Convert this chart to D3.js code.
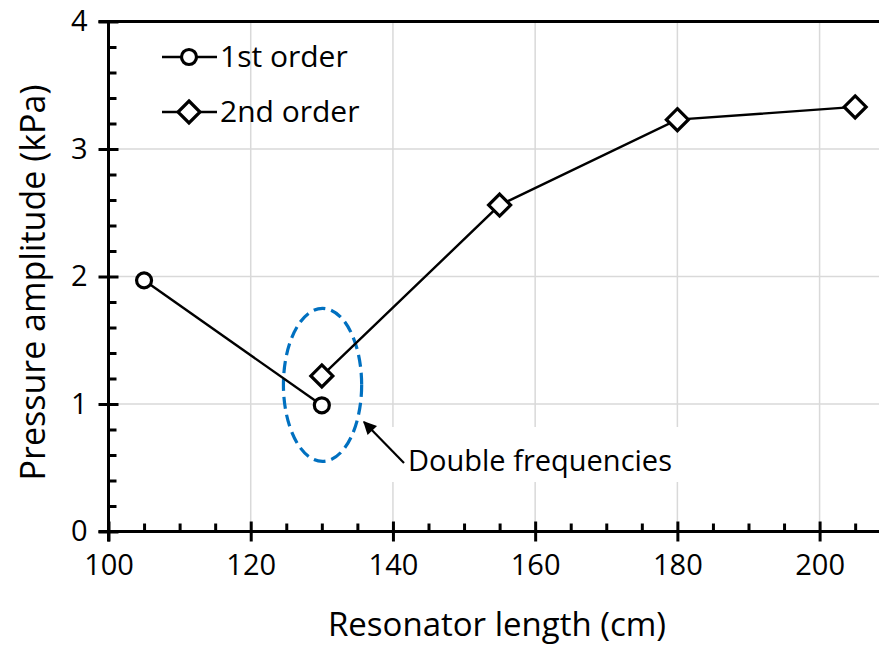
<!DOCTYPE html>
<html>
<head>
<meta charset="utf-8">
<script src="https://cdn.jsdelivr.net/npm/d3@7"></script>
<style>
  html, body { margin: 0; padding: 0; background: #fff; }
  svg { display: block; }
  text { font-family: "Open Sans", "Noto Sans", sans-serif; fill: #000; }
</style>
</head>
<body>
<svg id="chart" width="879" height="648"></svg>
<script>
// ---- data ----
const firstOrderX = [105, 130];
const firstOrderY = [1.97, 0.99];
const secondOrderX = [130, 155, 180, 205];
const secondOrderY = [1.22, 2.56, 3.23, 3.33];
const xTickValues = [100, 120, 140, 160, 180, 200];
const yTickValues = [0, 1, 2, 3, 4];
const seriesNames = ["1st order", "2nd order"];
const xTitle = "Resonator length (cm)";
const yTitle = "Pressure amplitude (kPa)";
const annotationText = "Double frequencies";
const ellipseCenter = [130.1, 1.15];   // data units
const ellipseHalf = [5.5, 0.6];        // data units

// ---- layout ----
const W = 879, H = 648;
const x = d3.scaleLinear().domain([100, 210]).range([108.5, 108.5 + 110 * 7.111]);
const y = d3.scaleLinear().domain([0, 4]).range([531.5, 21.5]);

const svg = d3.select("#chart");

// gridlines
const grid = svg.append("g");
grid.selectAll("line.vg").data(xTickValues.filter(v => v > 100))
  .join("line").attr("class", "vg")
  .attr("x1", d => x(d)).attr("x2", d => x(d))
  .attr("y1", y(4)).attr("y2", y(0))
  .attr("stroke", "#d9d9d9").attr("stroke-width", 1.5);
grid.selectAll("line.hg").data(yTickValues.filter(v => v > 0 && v < 4))
  .join("line").attr("class", "hg")
  .attr("x1", x(100)).attr("x2", W)
  .attr("y1", d => y(d)).attr("y2", d => y(d))
  .attr("stroke", "#d9d9d9").attr("stroke-width", 1.5);

// annotation white box (covers gridlines)
svg.append("rect")
  .attr("x", 375).attr("y", 427).attr("width", 320).attr("height", 55)
  .attr("fill", "#fff");

// top border
svg.append("line")
  .attr("x1", x(100) - 10).attr("x2", W)
  .attr("y1", y(4)).attr("y2", y(4))
  .attr("stroke", "#000").attr("stroke-width", 3);

// ---- axes ----
const xMinor = d3.range(100, 211, 5).filter(v => v % 20 !== 0);
const yMinor = d3.range(0, 4.001, 0.2).map(v => +v.toFixed(1)).filter(v => Math.abs(v - Math.round(v)) > 1e-6);

// x minor (inside, upward)
const gxm = svg.append("g").attr("transform", `translate(0,${y(0)})`)
  .call(d3.axisBottom(x).tickValues(xMinor).tickSize(-8).tickFormat(""));
gxm.select(".domain").remove();
gxm.selectAll(".tick line").attr("stroke", "#000").attr("stroke-width", 3);

// x major
const gx = svg.append("g").attr("transform", `translate(0,${y(0)})`)
  .call(d3.axisBottom(x).tickValues(xTickValues).tickSize(10).tickPadding(13).tickSizeOuter(0));
gx.select(".domain").attr("stroke", "#000").attr("stroke-width", 3)
  .attr("d", `M${x(100) - 10},0H${W}`);
gx.selectAll(".tick line").attr("stroke", "#000").attr("stroke-width", 3).attr("y1", -10);
gx.selectAll(".tick text").style("font-size", "29px").style("font-family", "'Open Sans', sans-serif").attr("fill", "#000");

// y minor (inside, rightward)
const gym = svg.append("g").attr("transform", `translate(${x(100)},0)`)
  .call(d3.axisLeft(y).tickValues(yMinor).tickSize(-8).tickFormat(""));
gym.select(".domain").remove();
gym.selectAll(".tick line").attr("stroke", "#000").attr("stroke-width", 3);

// y major
const gy = svg.append("g").attr("transform", `translate(${x(100)},0)`)
  .call(d3.axisLeft(y).tickValues(yTickValues).tickSize(10).tickPadding(11).tickSizeOuter(0).tickFormat(d3.format("d")));
gy.select(".domain").attr("stroke", "#000").attr("stroke-width", 3)
  .attr("d", `M0,${y(0) + 10}V${y(4)}`);
gy.selectAll(".tick line").attr("stroke", "#000").attr("stroke-width", 3).attr("x1", 10);
gy.selectAll(".tick text").style("font-size", "29px").style("font-family", "'Open Sans', sans-serif").attr("fill", "#000");

// axis titles
svg.append("text")
  .attr("x", 497).attr("y", 636)
  .attr("text-anchor", "middle")
  .style("font-size", "33px")
  .text(xTitle);
svg.append("text")
  .attr("transform", `translate(45,${(y(0) + y(4)) / 2 + 6}) rotate(-90)`)
  .attr("text-anchor", "middle")
  .style("font-size", "34px")
  .text(yTitle);

// ---- ellipse ----
svg.append("ellipse")
  .attr("cx", x(ellipseCenter[0])).attr("cy", y(ellipseCenter[1]))
  .attr("rx", x(ellipseCenter[0] + ellipseHalf[0]) - x(ellipseCenter[0]))
  .attr("ry", y(ellipseCenter[1]) - y(ellipseCenter[1] + ellipseHalf[1]))
  .attr("fill", "none").attr("stroke", "#0070C0")
  .attr("stroke-width", 3.2).attr("stroke-dasharray", "12 6");

// ---- series ----
const line = d3.line().x(d => x(d[0])).y(d => y(d[1]));
const s1 = firstOrderX.map((v, i) => [v, firstOrderY[i]]);
const s2 = secondOrderX.map((v, i) => [v, secondOrderY[i]]);

svg.append("path").datum(s1).attr("d", line)
  .attr("fill", "none").attr("stroke", "#000").attr("stroke-width", 2.4);
svg.append("path").datum(s2).attr("d", line)
  .attr("fill", "none").attr("stroke", "#000").attr("stroke-width", 2.4);

const circleSym = d3.symbol().type(d3.symbolCircle).size(Math.PI * 7.5 * 7.5);
const diamondPath = r => `M0,${-r}L${r},0L0,${r}L${-r},0Z`;

svg.append("g").selectAll("path").data(s1).join("path")
  .attr("transform", d => `translate(${x(d[0])},${y(d[1])})`)
  .attr("d", circleSym)
  .attr("fill", "#fff").attr("stroke", "#000").attr("stroke-width", 3.2);
svg.append("g").selectAll("path").data(s2).join("path")
  .attr("transform", d => `translate(${x(d[0])},${y(d[1])})`)
  .attr("d", diamondPath(11))
  .attr("fill", "#fff").attr("stroke", "#000").attr("stroke-width", 3.2);

// ---- legend ----
const legendY = [57, 112];
const lg = svg.append("g");
seriesNames.forEach((name, i) => {
  lg.append("line").attr("x1", 162).attr("x2", 217)
    .attr("y1", legendY[i]).attr("y2", legendY[i])
    .attr("stroke", "#000").attr("stroke-width", 2.4);
  const m = lg.append("path").attr("transform", `translate(189,${legendY[i]})`)
    .attr("fill", "#fff").attr("stroke", "#000").attr("stroke-width", 3.2);
  if (i === 0) m.attr("d", circleSym); else m.attr("d", diamondPath(11));
  lg.append("text").attr("x", 220).attr("y", legendY[i] + 10)
    .style("font-size", "30px").text(name);
});

// ---- annotation ----
svg.append("defs").append("marker")
  .attr("id", "ah").attr("viewBox", "0 0 10 10")
  .attr("refX", 9).attr("refY", 5)
  .attr("markerWidth", 7).attr("markerHeight", 6)
  .attr("markerUnits", "strokeWidth")
  .attr("orient", "auto")
  .append("path").attr("d", "M0,0L10,5L0,10Z").attr("fill", "#000");
svg.append("line")
  .attr("x1", 404).attr("y1", 463).attr("x2", 364).attr("y2", 422)
  .attr("stroke", "#000").attr("stroke-width", 2.2)
  .attr("marker-end", "url(#ah)");
svg.append("text")
  .attr("x", 408).attr("y", 471)
  .style("font-size", "29px")
  .text(annotationText);
</script>
</body>
</html>
